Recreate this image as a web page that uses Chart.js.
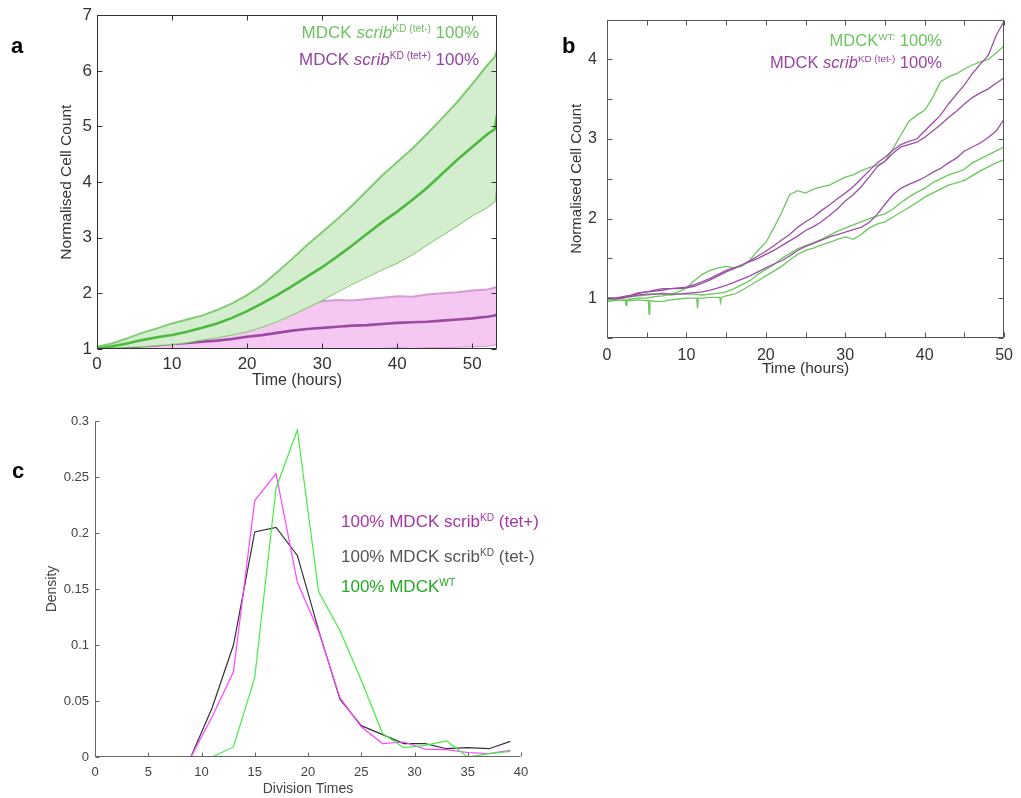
<!DOCTYPE html>
<html><head><meta charset="utf-8">
<script src="https://cdn.jsdelivr.net/npm/chart.js@4.4.1/dist/chart.umd.min.js"></script>
<style>
body{margin:0;background:#fff;font-family:"Liberation Sans",Arial,Helvetica,sans-serif;}
#wrap{position:relative;width:1021px;height:798px;overflow:hidden;background:#fff;}
canvas{position:absolute;}
.t{position:absolute;white-space:nowrap;line-height:20px;}
.t sup{font-size:0.6em;vertical-align:baseline;position:relative;top:-0.62em;}
.lab{position:absolute;font-weight:bold;font-size:22px;line-height:22px;color:#000;}
</style></head>
<body><div id="wrap">
<canvas id="ca" width="520" height="400" style="left:0;top:0"></canvas>
<canvas id="cb" width="481" height="400" style="left:540px;top:0"></canvas>
<canvas id="cc" width="560" height="398" style="left:0;top:400px"></canvas>
<div class="lab" style="left:11px;top:35px">a</div>
<div class="lab" style="left:562px;top:35px">b</div>
<div class="lab" style="left:12px;top:460px">c</div>
<div class="t" style="right:542px;top:23px;font-size:17px;color:#6cc35e">MDCK <i>scrib</i><sup>KD (tet-)</sup> 100%</div>
<div class="t" style="right:542px;top:50px;font-size:17px;color:#9444a0">MDCK <i>scrib</i><sup>KD (tet+)</sup> 100%</div>
<div class="t" style="right:79px;top:30px;font-size:16.5px;color:#6ac45a">MDCK<sup>WT:</sup> 100%</div>
<div class="t" style="right:79px;top:52px;font-size:16.5px;color:#9b45a5">MDCK <i>scrib</i><sup>KD (tet-)</sup> 100%</div>
<div class="t" style="left:341px;top:512px;font-size:17px;color:#a535a5">100% MDCK scrib<sup>KD</sup> (tet+)</div>
<div class="t" style="left:341px;top:547px;font-size:17px;color:#555555">100% MDCK scrib<sup>KD</sup> (tet-)</div>
<div class="t" style="left:341px;top:577px;font-size:17px;color:#22aa22">100% MDCK<sup>WT</sup></div>
</div>
<script>
// ---------- Panel a data ----------
const TA = [0,2,4,6,8,10,12,14,16,18,20,22,24,26,28,30,32,34,36,38,40,42,44,46,48,50,52,53,53.3];
const A_GREEN_UPPER = [1.04,1.1,1.19,1.29,1.37,1.46,1.53,1.6,1.7,1.82,1.97,2.15,2.38,2.62,2.87,3.1,3.33,3.58,3.85,4.12,4.36,4.6,4.87,5.15,5.44,5.76,6.1,6.25,6.37];
const A_GREEN_MEAN  = [1.01,1.05,1.1,1.16,1.21,1.25,1.31,1.38,1.46,1.56,1.68,1.82,1.97,2.13,2.3,2.47,2.66,2.86,3.07,3.28,3.47,3.68,3.9,4.15,4.4,4.63,4.86,4.95,5.2];
const A_GREEN_LOWER = [1.02,1.03,1.04,1.05,1.07,1.09,1.12,1.17,1.21,1.26,1.32,1.4,1.5,1.62,1.75,1.88,2.03,2.17,2.3,2.43,2.55,2.7,2.88,3.05,3.22,3.4,3.55,3.66,4.08];
const A_PURPLE_UPPER = [1.0,1.02,1.05,1.08,1.12,1.17,1.22,1.28,1.35,1.43,1.51,1.6,1.7,1.78,1.83,1.86,1.88,1.87,1.9,1.92,1.95,1.94,1.98,2.0,2.02,2.05,2.07,2.1,2.13];
const A_PURPLE_MEAN  = [1.0,1.01,1.03,1.05,1.07,1.09,1.11,1.13,1.15,1.18,1.22,1.25,1.29,1.33,1.36,1.38,1.4,1.42,1.43,1.45,1.47,1.48,1.49,1.51,1.53,1.55,1.58,1.6,1.63];
const A_PURPLE_LOWER = [1.0,1.0,0.99,1.0,1.01,1.0,0.99,1.0,1.01,1.0,1.01,1.0,0.99,1.0,1.01,1.02,1.01,1.02,1.01,1.02,1.03,1.02,1.03,1.03,1.04,1.05,1.06,1.08,1.1];
const A_XTICKS = [0,10,20,30,40,50];
const A_YTICKS = [1,2,3,4,5,6,7];

// ---------- Panel b data ----------
const TB = [0,1,2,3,4,5,6,7,8,9,10,11,12,13,14,15,16,17,18,19,20,21,22,23,24,25,26,27,28,29,30,31,32,33,34,35,36,37,38,39,40,41,42,43,44,45,46,47,48,49,50];
const B_WT1 = [0.97,0.98,0.97,0.99,1.0,1.0,1.02,1.03,1.05,1.08,1.13,1.22,1.3,1.35,1.38,1.4,1.38,1.4,1.48,1.6,1.7,1.88,2.08,2.3,2.35,2.32,2.37,2.4,2.42,2.47,2.52,2.55,2.6,2.64,2.67,2.72,2.88,3.05,3.22,3.3,3.36,3.52,3.72,3.78,3.82,3.88,3.93,3.97,4.0,4.08,4.17];
const B_WT2 = [0.98,0.99,1.0,1.02,1.03,1.04,1.05,1.05,1.04,1.05,1.05,1.05,1.04,1.05,1.06,1.08,1.12,1.17,1.22,1.3,1.36,1.42,1.5,1.56,1.62,1.66,1.7,1.74,1.79,1.84,1.88,1.92,1.96,2.0,2.03,2.06,2.12,2.2,2.27,2.33,2.38,2.45,2.5,2.55,2.58,2.62,2.7,2.75,2.8,2.85,2.9];
const TB_WT3 = [0,1,2,2.3,2.4,2.5,3,4,5,5.2,5.3,5.4,6,7,8,9,10,11,11.3,11.4,11.5,12,13,14,14.2,14.3,14.4,15,16,17,18,19,20,21,22,23,24,25,26,27,28,29,30,31,32,33,34,35,36,37,38,39,40,41,42,43,44,45,46,47,48,49,50];
const B_WT3 = [0.96,0.97,0.98,0.97,0.91,0.97,0.97,0.98,0.97,0.97,0.8,0.97,0.96,0.96,0.98,0.99,1.0,1.0,1.0,0.87,1.0,1.0,1.01,1.01,1.01,0.95,1.01,1.03,1.05,1.1,1.16,1.22,1.28,1.34,1.4,1.48,1.55,1.6,1.63,1.67,1.7,1.74,1.77,1.74,1.8,1.88,1.93,1.96,2.02,2.08,2.14,2.2,2.27,2.32,2.37,2.42,2.45,2.48,2.54,2.6,2.65,2.7,2.74];
const B_KD1 = [1.0,0.99,1.0,1.03,1.06,1.08,1.1,1.12,1.12,1.13,1.14,1.17,1.21,1.25,1.3,1.35,1.38,1.42,1.47,1.53,1.59,1.66,1.73,1.8,1.89,1.96,2.02,2.1,2.17,2.25,2.32,2.4,2.5,2.6,2.7,2.77,2.86,2.93,2.97,3.0,3.1,3.2,3.3,3.44,3.56,3.68,3.82,3.94,4.05,4.3,4.48];
const B_KD2 = [1.0,1.0,1.02,1.04,1.07,1.08,1.09,1.1,1.12,1.12,1.13,1.15,1.19,1.23,1.28,1.33,1.37,1.42,1.46,1.5,1.55,1.6,1.66,1.72,1.78,1.85,1.9,1.96,2.04,2.12,2.22,2.3,2.4,2.52,2.65,2.72,2.82,2.9,2.93,2.96,3.02,3.1,3.18,3.27,3.35,3.44,3.52,3.58,3.63,3.7,3.77];
const B_KD3 = [1.0,1.0,1.01,1.02,1.04,1.05,1.05,1.06,1.05,1.05,1.06,1.07,1.08,1.1,1.13,1.16,1.2,1.24,1.28,1.33,1.38,1.43,1.47,1.53,1.6,1.65,1.69,1.73,1.77,1.8,1.83,1.86,1.89,1.95,2.05,2.18,2.3,2.38,2.43,2.47,2.52,2.58,2.63,2.7,2.76,2.85,2.9,2.95,3.02,3.1,3.25];
const B_XTICKS = [0,5,10,15,20,25,30,35,40,45,50];
const B_YTICKS = [0.5,1,1.5,2,2.5,3,3.5,4,4.5];

// ---------- Panel c data ----------
const C_X = [1,3,5,7,9,11,13,15,17,19,21,23,25,27,29,31,33,35,37,39];
const C_TETPLUS  = [0,0,0,0,0,0.036,0.076,0.229,0.253,0.156,0.112,0.053,0.027,0.012,0.0134,0.007,0.0066,0.004,0.003,0.006];
const C_TETMINUS = [0,0,0,0,0,0.044,0.1,0.201,0.205,0.18,0.113,0.0515,0.028,0.02,0.012,0.012,0.0074,0.0083,0.0074,0.014];
const C_WT       = [0,0,0,0,0,0,0.009,0.071,0.24,0.292,0.1475,0.113,0.0685,0.021,0.0083,0.0104,0.0143,0,0.003,0.005];
const C_XTICKS = [0,5,10,15,20,25,30,35,40];
const C_YTICKS = [0,0.05,0.1,0.15,0.2,0.25,0.3];

const FONT = '"Liberation Sans", Arial, Helvetica, sans-serif';
Chart.defaults.animation = false;
Chart.defaults.font.family = FONT;

const pts = (xs, ys) => xs.map((x, i) => ({x, y: ys[i]}));

const mAxes = {
  id: 'mAxes',
  afterDatasetsDraw(chart, args, o) {
    const {ctx, chartArea: a} = chart;
    const x = chart.scales.x, y = chart.scales.y;
    ctx.save();
    ctx.strokeStyle = o.color; ctx.lineWidth = 1;
    const L = Math.round(a.left) + 0.5, R = Math.round(a.right) - 0.5;
    const T = Math.round(a.top) + 0.5, B = Math.round(a.bottom) - 0.5;
    ctx.beginPath();
    if (o.box) { ctx.rect(L, T, R - L, B - T); }
    else { ctx.moveTo(L, T); ctx.lineTo(L, B); ctx.lineTo(R, B); }
    const len = o.len;
    x.ticks.forEach(t => {
      const p = Math.round(x.getPixelForValue(t.value)) + 0.5;
      ctx.moveTo(p, B); ctx.lineTo(p, B - len);
      if (o.box) { ctx.moveTo(p, T); ctx.lineTo(p, T + len); }
    });
    y.ticks.forEach(t => {
      const p = Math.round(y.getPixelForValue(t.value)) + 0.5;
      ctx.moveTo(L, p); ctx.lineTo(L + len, p);
      if (o.box) { ctx.moveTo(R, p); ctx.lineTo(R - len, p); }
    });
    ctx.stroke();
    ctx.restore();
  }
};

function lineDs(data, color, width, extra) {
  return Object.assign({data, borderColor: color, borderWidth: width, pointRadius: 0, tension: 0, fill: false}, extra || {});
}
const NOGRID = {display: false, drawTicks: false, tickLength: 0};

// ---------- Chart a ----------
new Chart(document.getElementById('ca'), {
  type: 'line',
  data: { datasets: [
    lineDs(pts(TA, A_GREEN_MEAN), '#4fb840', 2.6, {order: 0}),
    lineDs(pts(TA, A_GREEN_UPPER), '#80cc72', 2, {order: 1, fill: {target: 2}, backgroundColor: '#d3edce'}),
    lineDs(pts(TA, A_GREEN_LOWER), '#80cc72', 2, {order: 2}),
    lineDs(pts(TA, A_PURPLE_MEAN), '#9a4aa0', 2.6, {order: 3}),
    lineDs(pts(TA, A_PURPLE_UPPER), '#d99ad5', 2, {order: 4, fill: {target: 5}, backgroundColor: '#f4c8f0'}),
    lineDs(pts(TA, A_PURPLE_LOWER), '#d99ad5', 2, {order: 5})
  ]},
  options: {
    responsive: false, animation: false,
    layout: {padding: {left: 0, right: 23, top: 13, bottom: 0}},
    plugins: {legend: {display: false}, tooltip: {enabled: false}, mAxes: {color: '#333', box: true, len: 5}},
    scales: {
      x: {type: 'linear', min: 0, max: 53.3,
        afterBuildTicks: s => { s.ticks = A_XTICKS.map(v => ({value: v})); },
        afterFit: s => { s.height = 51; },
        grid: NOGRID, border: {display: false},
        ticks: {color: '#333', font: {size: 17}, padding: 5, maxRotation: 0, autoSkip: false, callback: v => String(v)},
        title: {display: true, text: 'Time (hours)', color: '#333', font: {size: 16}, padding: {top: 0, bottom: 10}}},
      y: {type: 'linear', min: 1, max: 7,
        afterBuildTicks: s => { s.ticks = A_YTICKS.map(v => ({value: v})); },
        afterFit: s => { s.width = 97; },
        grid: NOGRID, border: {display: false},
        ticks: {color: '#333', font: {size: 17}, padding: 5, autoSkip: false, callback: v => String(v)},
        title: {display: true, text: 'Normalised Cell Count', color: '#333', font: {size: 15.5}, padding: {top: 57, bottom: 0}}}
    }
  },
  plugins: [mAxes]
});

// ---------- Chart b ----------
const GB = '#6cc85c', PB = '#9c4fa6';
new Chart(document.getElementById('cb'), {
  type: 'line',
  data: { datasets: [
    lineDs(pts(TB, B_KD1), PB, 1.3),
    lineDs(pts(TB, B_KD2), PB, 1.3),
    lineDs(pts(TB, B_KD3), PB, 1.3),
    lineDs(pts(TB, B_WT1), GB, 1.3),
    lineDs(pts(TB, B_WT2), GB, 1.3),
    lineDs(pts(TB_WT3, B_WT3), GB, 1.3)
  ]},
  options: {
    responsive: false, animation: false,
    layout: {padding: {left: 0, right: 10, top: 19, bottom: 0}},
    plugins: {legend: {display: false}, tooltip: {enabled: false}, mAxes: {color: '#555', box: true, len: 5}},
    scales: {
      x: {type: 'linear', min: 0, max: 50,
        afterBuildTicks: s => { s.ticks = B_XTICKS.map(v => ({value: v})); },
        afterFit: s => { s.height = 62; },
        grid: NOGRID, border: {display: false},
        ticks: {color: '#333', font: {size: 16}, padding: 8, maxRotation: 0, autoSkip: false, callback: v => (v % 10 === 0 ? String(v) : '')},
        title: {display: true, text: 'Time (hours)', color: '#333', font: {size: 15.5}, padding: {top: 0, bottom: 22}}},
      y: {type: 'linear', min: 0.5, max: 4.5,
        afterBuildTicks: s => { s.ticks = B_YTICKS.map(v => ({value: v})); },
        afterFit: s => { s.width = 67; },
        grid: NOGRID, border: {display: false},
        ticks: {color: '#333', font: {size: 16}, padding: 10, autoSkip: false, callback: v => (Number.isInteger(v) ? String(v) : '')},
        title: {display: true, text: 'Normalised Cell Count', color: '#333', font: {size: 15}, padding: {top: 28, bottom: 0}}}
    }
  },
  plugins: [mAxes]
});

// ---------- Chart c ----------
new Chart(document.getElementById('cc'), {
  type: 'line',
  data: { datasets: [
    lineDs(pts(C_X, C_WT), '#44ee44', 1.2),
    lineDs(pts(C_X, C_TETPLUS), '#ff44ff', 1.2),
    lineDs(pts(C_X, C_TETMINUS), '#333333', 1.2)
  ]},
  options: {
    responsive: false, animation: false,
    layout: {padding: {left: 0, right: 39, top: 21, bottom: 0}},
    plugins: {legend: {display: false}, tooltip: {enabled: false}, mAxes: {color: '#666', box: false, len: 4}},
    scales: {
      x: {type: 'linear', min: 0, max: 40,
        afterBuildTicks: s => { s.ticks = C_XTICKS.map(v => ({value: v})); },
        afterFit: s => { s.height = 41; },
        grid: NOGRID, border: {display: false},
        ticks: {color: '#444', font: {size: 13}, padding: 8, maxRotation: 0, autoSkip: false, callback: v => String(v)},
        title: {display: true, text: 'Division Times', color: '#444', font: {size: 14}, padding: {top: 0, bottom: 0}}},
      y: {type: 'linear', min: 0, max: 0.3,
        afterBuildTicks: s => { s.ticks = C_YTICKS.map(v => ({value: v})); },
        afterFit: s => { s.width = 95; },
        grid: NOGRID, border: {display: false},
        ticks: {color: '#444', font: {size: 13}, padding: 6, autoSkip: false, callback: v => String(v)},
        title: {display: true, text: 'Density', color: '#444', font: {size: 14}, padding: {top: 44, bottom: 0}}}
    }
  },
  plugins: [mAxes]
});
</script>
</body></html>
